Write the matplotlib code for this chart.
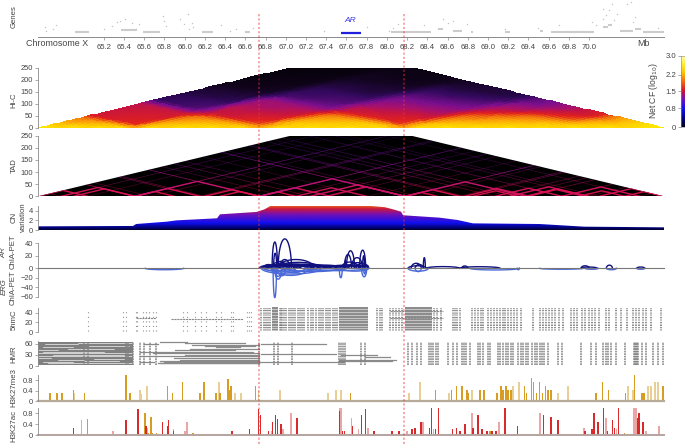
import numpy as np
import matplotlib
matplotlib.use("Agg")
import matplotlib.pyplot as plt
from matplotlib.colors import LinearSegmentedColormap
from matplotlib.collections import LineCollection
from matplotlib.patches import Polygon

plt.rcParams['font.family'] = ['Liberation Sans', 'DejaVu Sans']
TXT = "#444444"
AX = "#8a8a8a"
W, H = 685, 444
XMIN, XMAX = 64.55, 70.74
VLINES = [66.74, 68.17]

# genes: start, end, height
GENES = [(64.92, 65.05, 4.3), (65.37, 65.53, 6.3), (65.59, 65.76, 4.3), (66.17, 66.28, 4.3), (66.60, 66.65, 4.3),
         (68.04, 68.44, 4.3), (68.51, 68.55, 7.7), (68.65, 68.74, 6), (68.83, 68.85, 4.3), (69.17, 69.22, 4.3),
         (69.51, 69.54, 6), (69.62, 70.05, 4.3), (70.14, 70.19, 9.3), (70.19, 70.23, 11.7), (70.3, 70.43, 6),
         (70.45, 70.51, 7.7), (70.53, 70.74, 4.3)]
AR_GENE = (67.55, 67.74, 4.0)
GENE_DOT_X = [64.62, 64.63, 64.70, 64.73, 65.20, 65.28, 65.33, 65.36, 65.41, 65.48, 65.55, 65.52, 65.79, 65.80, 65.82,
              65.95, 65.99, 66.03, 66.04, 66.07, 66.08, 66.36, 66.45, 66.51, 66.68, 67.38, 67.80, 68.02, 68.11, 68.06,
              68.37, 68.55, 68.60, 68.65, 68.79, 69.17, 69.49, 69.70, 69.94, 70.03, 70.07, 70.14, 70.17, 70.23, 70.14,
              70.20, 70.25, 70.28, 70.37, 70.41, 70.45, 70.43, 70.68]
GENE_DOT_Y = [9.3, 6, 7.7, 11.7, 7.7, 10.7, 15, 16, 17.7, 14, 12.7, 7.3, 21, 16, 10.7,
              18, 12.7, 22.7, 7.3, 14, 9.3, 11.7, 6, 7.7, 8.3, 6, 9.3, 6, 12.7, 8.3,
              11.3, 17.7, 14, 16, 12.7, 7.3, 9, 11.3, 6, 15, 11.7, 28, 21.7, 32.7, 18,
              26.7, 16.7, 22.7, 32.7, 35, 19.3, 15, 8.3]
GENE_TICKS = [65.2, 65.4, 65.6, 65.8, 66.0, 66.2, 66.4, 66.6, 66.8, 67.0, 67.2, 67.4, 67.6, 67.8, 68.0, 68.2, 68.4,
              68.6, 68.8, 69.0, 69.2, 69.4, 69.6, 69.8, 70.0]

# Hi-C: contact level between segments, upper triangle row by row
HIC_EDGES = [64.55, 64.79, 65.04, 65.28, 65.51, 65.80, 66.13, 66.45, 66.74, 67.09, 67.455, 67.81, 68.18, 68.47, 68.75,
             69.07, 69.37, 69.73, 70.03, 70.35, 70.74]
HIC_ROWS = [
    [2.9, 2.6, 2.3, 2.1, 1.6, 1.55, 1.5, 1.45, .6, .55, .45, .35, .25, .2, .15, .15, .1, .1, .1, .1],
    [2.9, 2.6, 2.3, 1.65, 1.6, 1.55, 1.5, .65, .6, .45, .4, .25, .2, .2, .15, .15, .1, .1, .1],
    [2.9, 2.6, 1.7, 1.65, 1.6, 1.5, .7, .65, .5, .4, .3, .25, .2, .2, .15, .15, .1, .1],
    [2.9, 1.75, 1.7, 1.6, 1.55, .85, .7, .55, .45, .35, .3, .25, .2, .2, .15, .15, .1],
    [2.9, 2.5, 2.2, 2.0, 1.5, 1.45, 1.3, 1.2, .7, .6, .55, .45, .35, .3, .25, .2],
    [2.9, 2.6, 2.25, 1.55, 1.5, 1.35, 1.25, .8, .65, .6, .5, .4, .3, .25, .2],
    [2.9, 2.5, 1.7, 1.6, 1.45, 1.3, .9, .75, .65, .5, .4, .35, .25, .2],
    [2.9, 1.85, 1.7, 1.55, 1.4, .95, .8, .7, .55, .45, .35, .3, .25],
    [2.9, 2.6, 2.3, 2.05, 1.55, 1.4, 1.2, 1.05, .85, .65, .5, .35],
    [2.9, 2.6, 2.3, 1.65, 1.5, 1.35, 1.15, .9, .7, .55, .4],
    [2.9, 2.6, 1.7, 1.6, 1.45, 1.25, 1.0, .8, .6, .45],
    [2.9, 1.8, 1.7, 1.55, 1.35, 1.1, .9, .7, .5],
    [2.9, 2.6, 2.3, 2.05, 1.7, 1.4, 1.15, .85],
    [2.9, 2.6, 2.25, 2.0, 1.6, 1.3, 1.0],
    [2.9, 2.6, 2.3, 2.0, 1.55, 1.25],
    [2.9, 2.6, 2.25, 1.75, 1.5],
    [2.9, 2.6, 1.95, 1.65],
    [2.9, 2.6, 2.2],
    [2.9, 2.6],
    [2.9]]

# TAD: long boundary lines (position, strength) and domains (start, end)
TAD_BOUNDS = [(64.78, .4), (65.04, .3), (65.51, .7), (65.66, .35), (66.15, .5), (66.2, .45), (66.74, .75), (67.0, .35),
              (67.24, .45), (67.44, .35), (67.81, .3), (68.18, .8), (68.3, .35), (68.72, .5), (68.77, .45), (69.07, .45),
              (69.21, .4), (69.37, .5), (69.73, .5), (69.99, .4), (70.1, .35), (70.5, .35)]
TAD_DOMAINS = [(64.78, 65.51), (64.55, 65.04), (64.9, 65.51), (65.51, 66.15), (65.51, 65.9), (65.51, 66.74), (66.2, 66.74),
               (66.35, 66.74), (66.74, 67.44), (66.74, 67.1), (67.1, 67.8), (67.4, 68.18), (66.74, 68.18), (67.24, 68.18),
               (68.18, 68.72), (68.18, 68.5), (68.18, 69.37), (68.77, 69.41), (68.85, 69.3), (69.07, 69.73), (69.21, 69.99),
               (69.4, 69.95), (69.73, 70.5), (69.9, 70.35), (70.1, 70.74), (70.35, 70.74), (69.37, 69.99)]

# copy number profile
CN_X = [64.55, 65.49, 65.52, 65.82, 65.92, 66.32, 66.35, 66.71, 66.79, 66.86, 67.58, 67.76, 67.98, 68.06, 68.14, 68.16,
        68.52, 68.70, 68.85, 69.51, 69.95, 70.74]
CN_Y = [.77, .85, 1.26, 1.75, 2.03, 2.46, 3.3, 3.8, 4.35, 5.2, 5.15, 5.2, 4.8, 4.35, 3.86, 3.1,
        2.6, 2.1, 1.4, 1.26, .7, .56]

# ChIA-PET loops: start, end, height
AR_LOOPS = [(66.865, 66.918, 42), (66.925, 67.056, 47), (66.88, 66.91, 24), (66.94, 67.04, 14), (66.92, 67.28, 14),
            (66.89, 67.35, 9.5), (66.79, 67.52, 5), (66.8, 67.1, 6), (66.82, 67.25, 7), (66.74, 66.95, 5),
            (66.85, 67.45, 6.5), (66.95, 67.55, 4.5), (67.0, 67.4, 6), (67.1, 67.6, 5), (66.78, 66.88, 6),
            (66.86, 66.96, 9), (66.9, 67.0, 11), (67.2, 67.6, 4.5), (67.3, 67.8, 4), (67.4, 67.78, 5), (67.5, 67.8, 5),
            (67.58, 67.65, 22), (67.6, 67.68, 28), (67.65, 67.76, 17), (67.73, 67.79, 29), (67.76, 67.78, 20),
            (67.55, 67.72, 10), (67.62, 67.8, 9), (67.7, 67.81, 8), (67.58, 67.6, 12), (67.78, 67.82, 5),
            (66.76, 66.84, 3), (66.8, 66.9, 4), (66.84, 66.94, 4), (66.9, 67.02, 4), (66.96, 67.08, 4), (67.02, 67.14, 4),
            (67.08, 67.2, 3.5), (67.14, 67.26, 3.5), (67.2, 67.32, 3.5), (67.26, 67.38, 3), (67.32, 67.44, 3),
            (67.38, 67.5, 3), (67.44, 67.56, 3), (67.5, 67.62, 4), (67.56, 67.68, 5), (67.62, 67.74, 5), (67.68, 67.8, 5),
            (68.36, 68.38, 17), (68.24, 68.34, 8), (68.21, 68.39, 4), (68.28, 68.36, 6), (68.39, 68.72, 2.7),
            (68.74, 68.8, 3.7), (68.72, 69.12, 2.5), (69.92, 70.0, 4), (69.92, 70.08, 2), (70.17, 70.23, 5),
            (70.47, 70.55, 2)]
ERG_LOOPS = [(66.875, 66.908, 62), (66.89, 66.96, 17), (66.76, 67.35, 12), (66.875, 67.22, 15), (67.02, 67.52, 7),
             (67.53, 67.558, 20), (67.75, 67.80, 18), (67.77, 67.79, 12), (66.89, 66.96, 23), (66.92, 67.0, 16),
             (66.97, 67.19, 9), (66.8, 67.2, 8), (67.2, 67.8, 5), (67.55, 67.82, 6), (66.78, 67.0, 5), (66.85, 67.1, 6),
             (67.0, 67.3, 6), (67.2, 67.6, 4), (68.21, 68.41, 6), (68.28, 68.34, 7),
             (68.82, 69.31, 3.5), (69.51, 69.94, 2), (70.17, 70.27, 3), (70.47, 70.55, 2), (65.61, 65.99, 3),
             (69.29, 69.31, 3), (69.96, 70.09, 2)]

# 5hmC: solid bands (start, end), single stripes, white gaps in sample rows
HMC_BANDS = [(66.86, 66.92), (67.53, 67.81), (68.18, 68.45)]
HMC_SPARSE = [65.04, 65.39, 65.42, 65.52, 65.53, 65.59, 65.62, 65.65, 65.69, 65.72, 65.98, 66.02, 66.10, 66.16, 66.21,
              66.31, 66.36, 66.46, 66.48, 66.62, 66.64, 66.66]
HMC_DENSE = [66.76, 66.78, 66.80, 66.82, 66.84, 66.94, 66.95, 66.96, 66.98, 67.0, 67.03, 67.05, 67.07,
             67.09, 67.12, 67.14, 67.16, 67.18, 67.22, 67.25, 67.27, 67.3, 67.33, 67.35, 67.37, 67.4, 67.42, 67.44, 67.47,
             67.49, 67.51, 67.9, 67.93, 67.95, 68.03, 68.06, 68.09, 68.12, 68.15, 68.47, 68.5, 68.53, 68.65, 68.67, 68.69,
             68.72, 68.84, 68.87, 68.9, 68.93, 68.95, 69.0, 69.03, 69.06, 69.09, 69.12, 69.15, 69.17, 69.2, 69.23, 69.26,
             69.29, 69.33, 69.44, 69.51, 69.54, 69.57, 69.6, 69.63, 69.66, 69.7, 69.74, 69.82, 69.85, 69.88, 69.93, 69.96,
             70.0, 70.03, 70.06, 70.1, 70.17, 70.2, 70.27, 70.31, 70.37, 70.43, 70.46, 70.49, 70.53, 70.56, 70.61, 70.71]
HMC_GAPS = [47, 41, 36, 30, 24, 19, 13, 8, 4]
HMC_ROWS = [(65.87, 66.58, 28), (65.52, 65.72, 29), (68.03, 68.55, 44), (68.03, 68.55, 29)]

# HMR: blocks (start, end, low, high), white gaps and gray rows (start, end, sample), dotted stripes
HMR_BLOCKS = [(64.55, 65.49, 3, 66)]
HMR_GAPS = [(64.62, 64.95, 58.5), (64.95, 65.49, 61), (64.6, 64.9, 51), (65.05, 65.45, 55), (64.55, 64.75, 44),
            (64.85, 65.3, 47), (64.55, 65.49, 34.5), (64.6, 65.2, 38), (64.55, 65.49, 26), (64.7, 65.4, 30),
            (64.55, 64.68, 21), (64.75, 65.0, 17), (65.1, 65.4, 20), (64.65, 65.49, 8), (64.6, 64.9, 12),
            (65.0, 65.35, 13)]
HMR_ROWS = [(65.76, 66.02, 66), (66.07, 66.74, 57), (66.31, 66.55, 52), (65.56, 66.68, 39), (65.69, 66.74, 34),
            (65.56, 66.74, 27), (65.89, 66.74, 21), (65.76, 66.74, 14), (65.74, 66.74, 7), (65.76, 66.74, 9),
            (66.2, 66.7, 55), (66.05, 66.74, 47), (65.9, 66.5, 43), (66.0, 66.74, 30), (65.95, 66.74, 17), (65.8, 66.74, 11),
            (65.6, 65.74, 60), (65.56, 65.7, 12), (66.0, 66.6, 62), (66.76, 67.4, 59), (66.76, 67.5, 33),
            (66.74, 67.58, 11), (67.53, 68.09, 17), (67.53, 68.05, 13), (67.78, 68.03, 25), (67.55, 67.9, 30)]
HMR_STRIPES = [65.04, 65.0, 65.42, 65.44, 65.49, 65.56, 65.6, 65.66, 65.72, 66.74, 66.88, 66.92, 67.06, 67.53, 67.55,
               67.57, 67.59, 67.74, 67.78, 68.21, 68.25, 68.30, 68.34, 68.42, 68.44, 68.46, 68.49, 68.51, 68.60, 68.65, 68.69,
               68.74, 68.76, 68.78, 68.82, 68.90, 68.92, 68.95, 69.0, 69.02, 69.10, 69.12, 69.15, 69.18, 69.2, 69.23, 69.25,
               69.30, 69.33, 69.35, 69.38, 69.4, 69.43, 69.46, 69.48,
               69.51, 69.53, 69.55, 69.59, 69.69, 69.73, 69.92, 70.02, 70.07, 70.14, 70.17, 70.19, 70.22, 70.27, 70.35, 70.44,
               70.45, 70.46, 70.47, 70.48, 70.52, 70.56, 70.63, 70.68, 70.73]

# peak tracks
ME3_X = [64.67, 64.74, 64.79, 64.90, 65.01, 65.42, 65.46, 65.83, 65.88, 65.98, 66.15, 66.19, 66.31, 66.35, 66.43, 66.44,
         66.46, 66.70, 67.64, 68.48, 68.64, 68.69, 68.74, 68.79, 68.80, 68.92, 68.96, 69.09, 69.13, 69.15, 69.18, 69.20,
         69.23, 69.36, 69.38, 69.43, 69.45, 69.48, 69.51, 69.54, 69.57, 69.59, 69.62, 70.07, 70.13, 70.13, 70.19, 70.36,
         70.45, 70.52, 70.54, 70.73]
ME3_Y = [.3, .3, .3, .42, .3, 1.0, .3, .58, .3, .72, .3, .72, .3, .3, .85, .42,
         .58, .58, .3, .42, .42, .58, .58, .42, .3, .42, .42, .3, .58, .42, .58, .42,
         .42, .58, .3, .87, .72, .3, .72, .3, .58, .42, .42, .3, .58, .72, .42, .3,
         1.0, .3, .3, .58]
ME3_LIGHT_X = [64.55, 64.91, 65.56, 65.57, 65.63, 66.34, 66.50, 66.56, 66.73, 66.94, 67.42, 67.50, 67.55, 68.22, 68.33,
               68.61, 68.84, 69.25, 69.31, 69.69, 69.79, 70.38, 70.43, 70.58, 70.61, 70.65, 70.68]
ME3_LIGHT_Y = [.3, .3, .42, .28, .58, .72, .3, .3, .42, .42, .3, .42, .42, .3, .72,
               .3, .42, .58, .72, .3, .58, .58, .42, .58, .58, .72, .72]
AC_X = [64.90, 65.42, 65.54, 65.62, 65.78, 65.83, 65.84, 65.89, 66.47, 66.64, 66.73, 66.75, 66.83, 66.87, 66.90, 66.92,
        66.95, 67.11, 67.53, 67.58, 67.56, 67.66, 67.75, 67.79, 67.87, 68.05, 68.12, 68.25, 68.28, 68.34, 68.42, 68.44,
        68.48, 68.51, 68.65, 68.69, 68.72, 68.77, 68.85, 68.90, 68.94, 68.99, 69.04, 69.08, 69.17, 69.29, 69.55, 69.62,
        69.69, 69.96, 70.03, 70.05, 70.09, 70.14, 70.18, 70.23, 70.25, 70.29, 70.48, 70.49, 70.53]
AC_Y = [.28, .55, .96, .32, .48, .35, .55, .16, .16, .22, .95, .74, .16, .48, .74, .58,
        .4, .62, .88, .16, .16, .34, .74, .95, .16, .16, .16, .22, .28, .48, .28, .98,
        .22, .98, .22, .28, .16, .4, .28, .74, .22, .16, .16, .16, .98, .34, .74, .68,
        .55, .16, .22, .8, .48, .98, .16, .55, .28, .98, .62, .8, .48]
AC_LIGHT_X = [64.98, 65.04, 65.29, 65.63, 65.89, 66.0, 66.02, 66.86, 66.97, 67.05, 67.55, 67.54, 67.65, 67.72, 67.81,
              68.20, 68.36, 68.46, 68.84, 69.11, 69.51, 69.95, 70.17, 70.27, 70.44, 70.46, 70.56, 70.69]
AC_LIGHT_Y = [.55, .48, .16, .28, .22, .16, .48, .16, .22, .8, .98, .98, .62, .22, .28,
              .16, .48, .22, .8, .48, .8, .28, .62, .22, .98, .98, .16, .34]
AC_ORANGE_X = [65.04, 65.61, 65.67, 65.64, 65.68, 65.72, 66.08, 68.69, 69.02, 70.35]
AC_ORANGE_Y = [.58, .8, .67, .1, .1, .08, .1, .28, .16, .08]

hic_cmap = LinearSegmentedColormap.from_list("hic", [
    (0, "#000000"), (.1, "#12041f"), (.2, "#33095e"), (.33, "#7a0f8e"), (.43, "#a5106e"), (.5, "#c51540"),
    (.57, "#e0201f"), (.67, "#f0700f"), (.77, "#fca208"), (.87, "#fdc503"), (.97, "#ffe600"), (1, "#fff000")])
cb_cmap = LinearSegmentedColormap.from_list("cb", [
    (0, "#000020"), (.1, "#000070"), (.25, "#1010f0"), (.38, "#6a10c0"), (.5, "#d01030"), (.62, "#f06010"),
    (.75, "#fcc000"), (.88, "#fff030"), (1, "#ffffc0")])
cn_cmap = LinearSegmentedColormap.from_list("cn", [
    (0, "#000028"), (.08, "#000070"), (.28, "#1010f0"), (.6, "#7010b8"), (.82, "#c81840"), (1, "#f88010")])
tad_cmap = LinearSegmentedColormap.from_list("tad", [
    (0, "#e8103a"), (.2, "#d01468"), (.45, "#9a1298"), (.7, "#6a1090"), (1, "#3c0a60")])

fig = plt.figure(figsize=(W / 100, H / 100), dpi=100)


def panel(top, bottom, ymin, ymax, ticks=None, labels=None, spine_top=None):
    ax = fig.add_axes([38 / W, 1 - bottom / H, 626 / W, (bottom - top) / H])
    ax.set_xlim(XMIN, XMAX)
    ax.set_ylim(ymin, ymax)
    ax.patch.set_alpha(0)
    for s in ['top', 'right', 'bottom']:
        ax.spines[s].set_visible(False)
    ax.spines['left'].set_color(AX)
    ax.spines['left'].set_linewidth(.6)
    ax.set_xticks([])
    if ticks is None:
        ax.spines['left'].set_visible(False)
        ax.set_yticks([])
    else:
        ax.set_yticks(ticks)
        if labels:
            ax.set_yticklabels(labels)
        ax.tick_params(axis='y', labelsize=5.4, length=2, width=.5, color=AX, labelcolor=TXT, pad=1.5)
    if spine_top is not None:
        ax.spines['left'].set_bounds(ymin, spine_top)
    return ax


def ptext(x, y, s, size=5.6, rot=90, **kw):
    fig.text(x / W, 1 - y / H, s, fontsize=size, rotation=rot, color=TXT, ha='center', va='center', **kw)


# genes
ax = panel(0, 36.7, 0, 36.7)
ax.spines['bottom'].set_visible(True)
ax.spines['bottom'].set_color(AX)
ax.spines['bottom'].set_linewidth(.7)
ax.set_xticks(GENE_TICKS)
ax.set_xticklabels(["%.1f" % t for t in GENE_TICKS])
ax.tick_params(axis='x', labelsize=5.6, length=2.4, width=.5, color=AX, labelcolor=TXT, pad=2.6)
for s, e, y in GENES:
    ax.plot([s, e], [y, y], color="#cccccc", lw=1.5, solid_capstyle='butt')
ax.plot(AR_GENE[:2], [AR_GENE[2]] * 2, color="#2020e0", lw=1.6, solid_capstyle='butt')
ax.scatter(GENE_DOT_X, GENE_DOT_Y, s=1.1, color="#c4c4c4", linewidths=0)
ax.text(67.64, 16.5, "AR", fontsize=6, style='italic', color="#3a3ae8", ha='center', va='center')
ptext(57, 43, "Chromosome X", size=6.4, rot=0)
ptext(644, 43, "Mb", size=6.4, rot=0)
ptext(14, 17, "Genes")

# Hi-C, segment table smoothed a little between segment centres for drawing
ax = panel(67.7, 127.7, 0, 250, [0, 50, 100, 150, 200, 250])
edges = np.array(HIC_EDGES)
n = len(edges) - 1
cells = np.zeros((n, n))
for i, row in enumerate(HIC_ROWS):
    cells[i, i:] = row
    cells[i:, i] = row
mids = (edges[:-1] + edges[1:]) / 2
fine_edges = np.interp(np.linspace(0, n, 4 * n + 1), np.arange(n + 1), edges)
fine_mids = (fine_edges[:-1] + fine_edges[1:]) / 2
fine = np.array([np.interp(fine_mids, mids, c) for c in cells])
fine = np.array([np.interp(fine_mids, mids, c) for c in fine.T]).T
A, B = np.meshgrid(fine_edges, fine_edges, indexing='ij')
ax.pcolormesh((A + B) / 2, 50 * (B - A), fine, cmap=hic_cmap, vmin=0, vmax=3, shading='flat',
              linewidth=0, antialiased=False, rasterized=True)
ptext(14, 100, "Hi-C")

# TAD
ax = panel(135.7, 196.3, 0, 250, [0, 50, 100, 150, 200, 250])
trap = Polygon([(XMIN, 0), (XMIN + 2.5, 250), (XMAX - 2.5, 250), (XMAX, 0)], closed=True, fc="black", ec="none")
ax.add_patch(trap)
heights = np.array([0, 25, 50, 75, 100, 125, 150, 175, 200, 225, 250])
for pos, strength in TAD_BOUNDS:
    for sign in (-1, 1):
        xs = pos + sign * heights / 100
        pts = np.column_stack([xs, heights])
        segs = np.stack([pts[:-1], pts[1:]], axis=1)
        lc = LineCollection(segs, cmap=tad_cmap, linewidths=.5, alpha=strength)
        lc.set_array((heights[:-1] + 12) / 250)
        lc.set_clim(0, 1)
        ax.add_collection(lc)
        lc.set_clip_path(trap)
for s, e in TAD_DOMAINS:
    apex = 50 * (e - s)
    c = tad_cmap(min(apex / 250, 1))
    ax.plot([s, (s + e) / 2, e], [0, apex, 0], color=c, lw=1.0, alpha=.95, solid_joinstyle='miter', clip_path=trap)
ptext(14, 166, "TAD")

# CN
ax = panel(206, 230, 0, 5.05, [0, 2, 4], ["0", "2", "4"])
poly = Polygon(list(zip(CN_X, CN_Y)) + [(XMAX, 0), (XMIN, 0)], closed=True, fc='none', ec='none')
ax.add_patch(poly)
im = ax.imshow(np.linspace(0, 1, 256)[:, None], extent=[XMIN, XMAX, 0, 5.2], origin='lower', aspect='auto', cmap=cn_cmap)
im.set_clip_path(poly)
ax.set_xlim(XMIN, XMAX)
ax.set_ylim(0, 5.05)
ptext(14, 217, "CN")
ptext(23, 217, "variation")

# ChIA-PET
ang = np.linspace(0, np.pi, 41)
ax = panel(239.5, 268.3, 0, 46, [0, 20, 40], ["0", "20", "40"], spine_top=40)
for s, e, h in AR_LOOPS:
    ax.plot((s + e) / 2 + (e - s) / 2 * np.cos(ang), h * np.sin(ang), color="#10107e", lw=1.0, clip_on=False)
ax2 = panel(268.3, 296.7, -60, 0, [-60, -40, -20], ["\u221260", "\u221240", "\u221220"])
for s, e, h in ERG_LOOPS:
    ax2.plot((s + e) / 2 + (e - s) / 2 * np.cos(ang), -h * np.sin(ang), color="#4a68d8", lw=1.0, clip_on=False)
ax2.axhline(0, color="#777777", lw=.8, clip_on=False, zorder=5)
ptext(4, 253, "AR", style='italic')
ptext(13, 252, "ChIA-PET")
ptext(4, 287, "ERG", style='italic')
ptext(13, 288, "ChIA-PET")

# 5hmC
ax = panel(306.7, 332.3, 0, 52, [0, 20, 40], ["0", "20", "40"], spine_top=49)
for s, e in HMC_BANDS:
    ax.fill_between([s, e], 3, 51, color="#808080", lw=0, alpha=.9)
ax.vlines(HMC_DENSE, 2, 50, color="#777777", lw=1.15, linestyles=(0, (1.0, .55)))
ax.vlines(HMC_SPARSE, 3, 48, color="#8a8a8a", lw=.8, linestyles=(0, (.9, 3.2)))
ax.hlines(HMC_GAPS, 66.74, XMAX, color="white", lw=.5, alpha=.7)
for s, e, y in HMC_ROWS:
    ax.plot([s, e], [y, y], color="#8a8a8a", lw=.8, ls=(0, (2, .6)))
ptext(14, 320, "5hmC")

# HMR
ax = panel(341, 366, 0, 67.5, [0, 30, 60], ["0", "30", "60"])
for s, e, lo, hi in HMR_BLOCKS:
    ax.fill_between([s, e], lo, hi, color="#808080", lw=0)
for s, e, y in HMR_GAPS:
    ax.plot([s, e], [y, y], color="white", lw=.45)
for s, e, y in HMR_ROWS:
    ax.plot([s, e], [y, y], color="#8a8a8a", lw=.9)
ax.vlines(HMR_STRIPES, 2, 66, color="#808080", lw=1.1, linestyles=(0, (1.1, .55)))
ptext(14, 354, "HMR")

# H3K27me3
ax = panel(375, 401, 0, 1.0, [0, .4, .8], ["0", "0.4", "0.8"])
ax.bar(ME3_LIGHT_X, ME3_LIGHT_Y, width=.018, color="#e8cf96", lw=0)
ax.bar(ME3_X, ME3_Y, width=.016, color="#d89c22", lw=0)
ax.axhline(0, color="#b5ab98", lw=1.6, clip_on=False)
ptext(14, 388, "H3K27me3")

# H3K27ac
ax = panel(408.3, 435.3, 0, .98, [0, .4, .8], ["0", "0.4", "0.8"])
ax.bar(AC_LIGHT_X, AC_LIGHT_Y, width=.018, color="#eba5a5", lw=0)
ax.bar(AC_ORANGE_X, AC_ORANGE_Y, width=.016, color="#d89c22", lw=0)
ax.bar(AC_X, AC_Y, width=.016, color="#d82a2a", lw=0)
ax.axhline(0, color="#b5a3a0", lw=1.4, clip_on=False)
ptext(14, 426, "H3K27ac")

# colorbar
cax = fig.add_axes([681 / W, 1 - 127 / H, 3.6 / W, 71 / H])
cax.imshow(np.linspace(0, 3, 256)[:, None], extent=[0, 1, 0, 3], origin='lower', aspect='auto', cmap=cb_cmap, vmin=0, vmax=3)
cax.set_xticks([])
cax.set_yticks([0, .8, 1.5, 2.2, 3.0])
cax.set_yticklabels(["0", "0.8", "1.5", "2.2", "3.0"])
cax.tick_params(axis='y', labelsize=5.6, length=2, width=.5, color=AX, labelcolor=TXT, pad=1.5)
for sp in cax.spines.values():
    sp.set_linewidth(.4)
    sp.set_color(AX)
ptext(653, 91, r"Net CF (log$_{10}$)", size=6.2)

# dashed marks across the tracks
top_ax = fig.add_axes([38 / W, 1 - 444 / H, 626 / W, (444 - 14) / H], zorder=20)
top_ax.set_xlim(XMIN, XMAX)
top_ax.set_ylim(0, 1)
top_ax.axis('off')
for x in VLINES:
    top_ax.axvline(x, color="#e8343c", lw=1.1, ls=(0, (1.4, 1.4)), alpha=.55)

fig.savefig("out.png", dpi=100)
